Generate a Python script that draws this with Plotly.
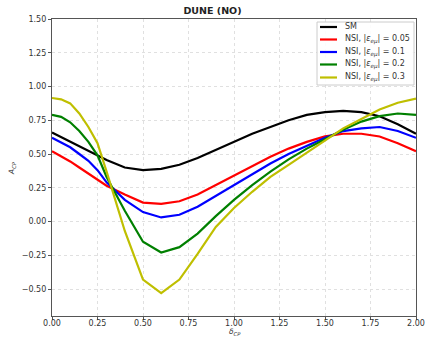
import plotly.graph_objects as go

delta = [0.0, 0.05, 0.1, 0.15, 0.2, 0.25, 0.3, 0.4, 0.5, 0.6, 0.7, 0.8, 0.9, 1.0,
         1.1, 1.2, 1.3, 1.4, 1.5, 1.6, 1.7, 1.8, 1.9, 2.0]

sm = [0.66, 0.625, 0.59, 0.555, 0.52, 0.485, 0.455, 0.40, 0.38, 0.39, 0.42, 0.47, 0.53, 0.59,
      0.65, 0.70, 0.75, 0.79, 0.81, 0.82, 0.81, 0.78, 0.72, 0.65]
nsi_005 = [0.52, 0.485, 0.445, 0.40, 0.355, 0.31, 0.265, 0.20, 0.14, 0.13, 0.15, 0.20, 0.27, 0.34,
           0.41, 0.48, 0.54, 0.59, 0.63, 0.65, 0.65, 0.63, 0.58, 0.52]
nsi_01 = [0.62, 0.585, 0.55, 0.50, 0.45, 0.38, 0.29, 0.16, 0.07, 0.03, 0.05, 0.11, 0.19, 0.27,
          0.35, 0.43, 0.50, 0.56, 0.62, 0.67, 0.69, 0.70, 0.67, 0.62]
nsi_02 = [0.79, 0.775, 0.735, 0.67, 0.59, 0.49, 0.33, 0.08, -0.15, -0.23, -0.19, -0.09, 0.04, 0.16,
          0.27, 0.37, 0.46, 0.54, 0.61, 0.68, 0.74, 0.78, 0.80, 0.79]
nsi_03 = [0.915, 0.905, 0.875, 0.80, 0.70, 0.58, 0.37, -0.07, -0.43, -0.53, -0.43, -0.24, -0.04, 0.10,
          0.22, 0.33, 0.42, 0.51, 0.60, 0.69, 0.76, 0.83, 0.88, 0.91]

series = [
    ("SM", sm, "black"),
    ("NSI, |<i>ε<sub>eμ</sub></i>| = 0.05", nsi_005, "red"),
    ("NSI, |<i>ε<sub>eμ</sub></i>| = 0.1", nsi_01, "blue"),
    ("NSI, |<i>ε<sub>eμ</sub></i>| = 0.2", nsi_02, "green"),
    ("NSI, |<i>ε<sub>eμ</sub></i>| = 0.3", nsi_03, "#bfbf00"),
]

xticks = [0.0, 0.25, 0.5, 0.75, 1.0, 1.25, 1.5, 1.75, 2.0]
yticks = [-0.5, -0.25, 0.0, 0.25, 0.5, 0.75, 1.0, 1.25, 1.5]

W, H = 425, 338
ML, MR, MT, MB = 52, 9, 19, 22
PW, PH = W - ML - MR, H - MT - MB


def px(xp):
    return (xp - ML) / PW


def py(yp):
    return (H - MB - yp) / PH


fig = go.Figure()
for name, vals, col in series:
    fig.add_trace(go.Scatter(x=delta, y=vals, mode="lines", name=name,
                             line=dict(color=col, width=2.2), showlegend=False))

# legend drawn manually (matplotlib-like compact legend)
shapes = [dict(type="rect", xref="paper", yref="paper",
               x0=px(317), x1=px(414), y0=py(85), y1=py(22),
               fillcolor="rgba(255,255,255,0.9)", line=dict(color="#cccccc", width=1),
               layer="above")]
annotations = []
row_y = [27, 39.5, 52, 64.5, 77.5]
for (name, vals, col), ry in zip(series, row_y):
    shapes.append(dict(type="line", xref="paper", yref="paper",
                       x0=px(320), x1=px(337), y0=py(ry), y1=py(ry),
                       line=dict(color=col, width=2.2), layer="above"))
    annotations.append(dict(xref="paper", yref="paper", x=px(343), y=py(ry),
                            xanchor="left", yanchor="middle", showarrow=False,
                            text=name, font=dict(size=8, color="#333")))

# axis titles
annotations.append(dict(xref="paper", yref="paper", x=px(235), y=py(338),
                        xanchor="center", yanchor="bottom", showarrow=False, borderpad=0,
                        text="<i>δ<sub>CP</sub></i>", font=dict(size=7.5, color="#333")))
annotations.append(dict(xref="paper", yref="paper", x=px(12), y=py(168),
                        xanchor="center", yanchor="middle", showarrow=False, textangle=-90,
                        text="<i>A<sub>CP</sub></i>", font=dict(size=7.5, color="#333")))

axis_common = dict(showline=True, linecolor="#555", linewidth=1.2, mirror=True,
                   ticks="outside", ticklen=3, tickcolor="#555",
                   showgrid=True, gridcolor="#e0e0e0", griddash="dot", gridwidth=1,
                   zeroline=False, tickfont=dict(size=8, color="#333"), automargin=False)

fig.update_layout(
    width=W, height=H,
    margin=dict(l=ML, r=MR, t=MT, b=MB),
    paper_bgcolor="white", plot_bgcolor="white",
    font=dict(family="DejaVu Sans", size=8, color="#333"),
    title=dict(text="<b>DUNE (NO)</b>", x=px(234), xanchor="center",
               y=1 - 11 / H, yanchor="middle", font=dict(size=9.5, color="#222")),
    showlegend=False,
    shapes=shapes,
    annotations=annotations,
    xaxis=dict(range=[0, 2], tickvals=xticks, ticktext=[f"{v:.2f}" for v in xticks],
               ticklabelstandoff=-4, **axis_common),
    yaxis=dict(range=[-0.7, 1.5], tickvals=yticks,
               ticktext=[f"{v:.2f}".replace("-", "\u2212") for v in yticks],
               **axis_common),
)

fig.write_html("out.html")
